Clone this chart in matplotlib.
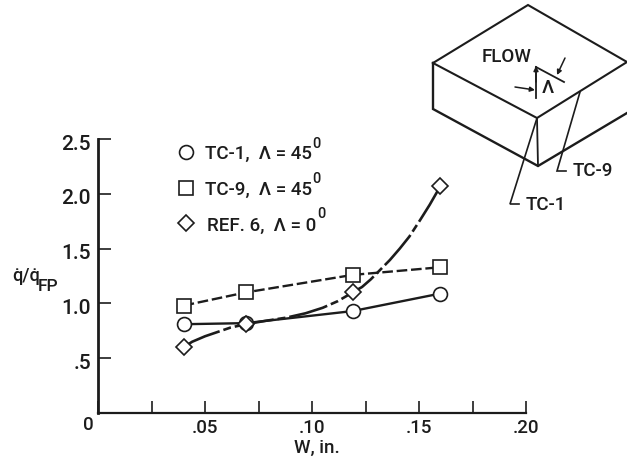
import matplotlib
matplotlib.use("Agg")
import matplotlib.pyplot as plt
from matplotlib.transforms import ScaledTranslation

plt.rcParams['font.family'] = ['Roboto', 'DejaVu Sans']

W = [0.04, 0.069, 0.119, 0.16]
tc1 = [0.81, 0.82, 0.93, 1.09]
tc9 = [0.98, 1.10, 1.26, 1.33]
ref6 = [0.60, 0.81, 1.10, 2.07]
curve_w = [0.04, 0.044, 0.05, 0.056, 0.062, 0.069, 0.078, 0.088, 0.097, 0.105, 0.112, 0.119,
           0.1234, 0.1275, 0.1318, 0.1364, 0.141, 0.1455, 0.1505, 0.155, 0.16]
curve_q = [0.60, 0.65, 0.70, 0.74, 0.78, 0.81, 0.84, 0.87, 0.91, 0.96, 1.02, 1.10,
           1.15, 1.22, 1.305, 1.396, 1.50, 1.61, 1.76, 1.90, 2.07]
x_ticks = [0, 0.025, 0.05, 0.075, 0.10, 0.125, 0.15, 0.175, 0.20]
x_labels = ['', '', '.05', '', '.10', '', '.15', '', '.20']
y_ticks = [0.5, 1.0, 1.5, 2.0, 2.5]
y_labels = ['.5', '1.0', '1.5', '2.0', '2.5']

PW, PH = 627, 461
INK = '#1c1c1c'
FS = 13.5
WT = 'medium'
fig = plt.figure(figsize=(PW / 100, PH / 100), dpi=100)
ax = fig.add_axes([98 / PW, (PH - 413) / PH, 428 / PW, 274 / PH])
ax.set_xlim(0, 0.20)
ax.set_ylim(0, 2.5)
for s in ['top', 'right']:
    ax.spines[s].set_visible(False)
ax.spines['left'].set_linewidth(2.0)
ax.spines['bottom'].set_linewidth(1.6)
ax.spines['left'].set_color(INK)
ax.spines['bottom'].set_color(INK)
ax.set_xticks(x_ticks, x_labels, fontsize=FS, color=INK, fontweight=WT)
ax.set_yticks(y_ticks, y_labels, fontsize=FS + 1.5, color=INK, fontweight=WT)
ax.tick_params(axis='x', direction='in', length=9, width=1.2, pad=4, color=INK)
ax.tick_params(axis='y', direction='in', length=9, width=1.2, pad=5, color=INK)
for t in ax.get_yticklabels():
    t.set_transform(t.get_transform() + ScaledTranslation(0, -3 / 100, fig.dpi_scale_trans))

ax.plot(W, tc1, '-', color=INK, lw=1.7, zorder=2)
ax.plot(W, tc9, color=INK, lw=1.7, dashes=(4.5, 1.6), zorder=2)
ax.plot(curve_w, curve_q, color=INK, lw=1.9, dashes=(15, 1.5, 3, 1.5), zorder=2)
mk = dict(mfc='white', mec=INK, mew=1.2, ls='none', zorder=3, clip_on=False)
ax.plot(W, tc1, marker='o', ms=10, **mk)
ax.plot(W, tc9, marker='s', ms=9.5, **mk)
ax.plot(W, ref6, marker='D', ms=8.5, **mk)

# overlay in image pixels for the key, labels and sketch
ov = fig.add_axes([0, 0, 1, 1], facecolor='none')
ov.set_xlim(0, PW)
ov.set_ylim(PH, 0)
ov.axis('off')

def txt(x, y, s, size=FS, ha='left', **kw):
    ov.text(x, y, s, fontsize=size, ha=ha, va='center', color=INK, fontweight=WT, **kw)

txt(88, 425, '0', ha='center')
txt(317, 448, 'W, in.', ha='center')
txt(12, 276, 'q\u0307/q\u0307', size=FS - 0.5)
txt(38, 286, 'FP', size=FS - 1)

ov.plot([186], [152], marker='o', ms=10, **mk)
ov.plot([186], [188], marker='s', ms=9.5, **mk)
ov.plot([186], [223], marker='D', ms=8.5, **mk)
txt(205, 154, 'TC-1,  \u039b = 45')
txt(205, 190, 'TC-9,  \u039b = 45')
txt(207, 226, 'REF. 6,  \u039b = 0')
txt(312.5, 144, '0', size=10.5)
txt(312.5, 179, '0', size=10.5)
txt(317, 214, '0', size=10.5)

box = [
    ([433, 528, 627, 537, 433], [63, 5, 62, 118, 63], 1.5),
    ([433, 433, 538, 627], [63, 109, 166, 113], 1.7),
    ([537, 538], [118, 166], 1.3),
    ([537, 510, 519], [118, 204, 204], 1.2),
    ([580, 557, 566], [92, 171, 171], 1.2),
    ([536, 536], [98, 67], 1.3),
    ([536, 564], [67, 82], 1.3),
]
for xs, ys, lw in box:
    ov.plot(xs, ys, color=INK, lw=lw, solid_joinstyle='miter')
for a, b in [((536, 82), (536, 66)), ((515, 87), (535, 90)), ((565, 58), (557, 75))]:
    ov.annotate('', xy=b, xytext=a, xycoords='data', textcoords='data',
                arrowprops=dict(arrowstyle='-|>', color=INK, lw=1.1, mutation_scale=7,
                                shrinkA=0, shrinkB=0))
txt(507, 57, 'FLOW', ha='center')
txt(548, 88, '\u039b', ha='center')
txt(526, 205, 'TC-1')
txt(573, 171, 'TC-9')

fig.savefig('out.png', dpi=100, facecolor='white')
